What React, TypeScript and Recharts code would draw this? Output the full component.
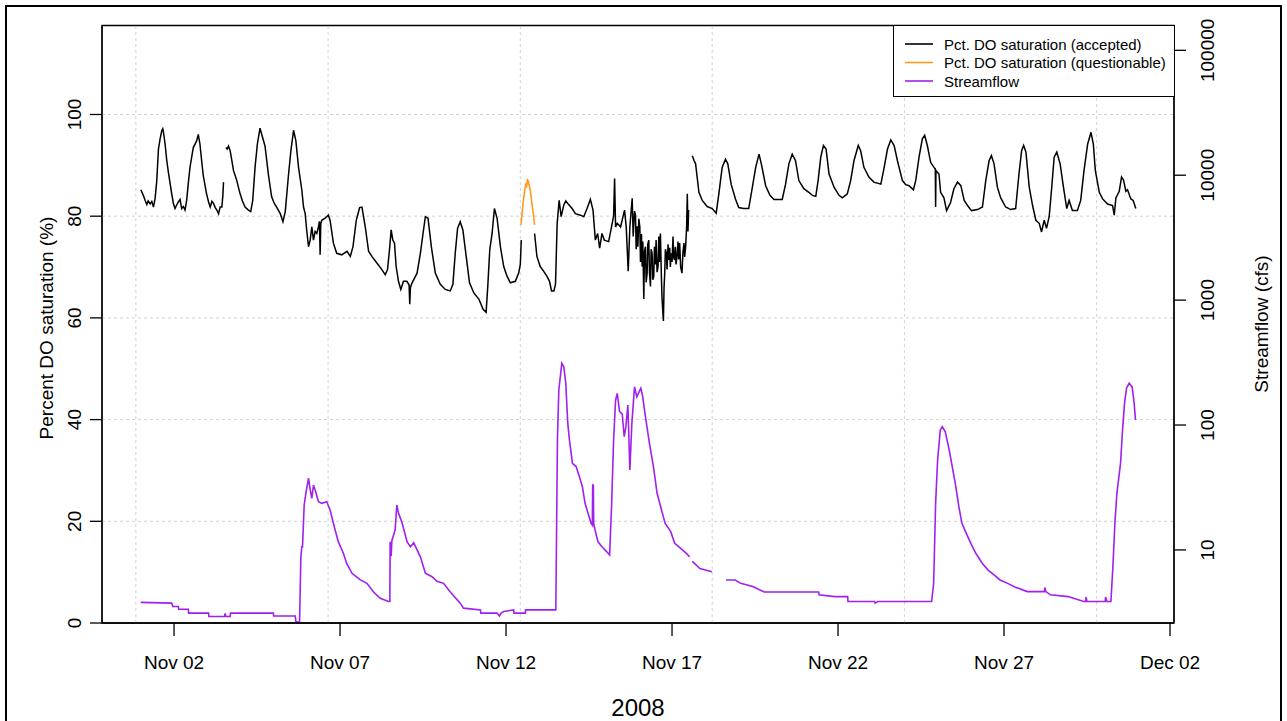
import React from 'react';
import { LineChart, Line, XAxis, YAxis, ReferenceLine, ReferenceArea } from 'recharts';

const FONT = '"Liberation Sans", Arial, Helvetica, sans-serif';

// ---- tick labels / categories ----
const xTickDays = [1, 6, 11, 16, 21, 26, 31]; // days since Nov 01 00:00
const xTickLabels = ['Nov 02', 'Nov 07', 'Nov 12', 'Nov 17', 'Nov 22', 'Nov 27', 'Dec 02'];
const gridDays = [-0.15, 5.64, 11.43, 17.21, 23.0, 28.79];
const doTicks = [0, 20, 40, 60, 80, 100];
const doGrid = [20, 40, 60, 80, 100];
const flowTicks = [10, 100, 1000, 10000, 100000];
const yearLabel = '2008';
const leftTitle = 'Percent DO saturation (%)';
const rightTitle = 'Streamflow (cfs)';
const legendNames = ['Pct. DO saturation (accepted)', 'Pct. DO saturation (questionable)', 'Streamflow'];
const seriesColors = ['#000000', '#FF9A1E', '#A020F0'];

// ---- series: [day, value] ----
const doAccepted: [number, number | null][] = [
  [0, 85.2], [0.08, 84.0], [0.13, 83.1], [0.18, 82.3], [0.22, 83.0], [0.28, 82.4], [0.33, 82.9], [0.38, 81.8],
  [0.43, 83.5], [0.48, 87.0], [0.53, 93.2], [0.58, 95.2], [0.63, 96.8], [0.66, 97.2], [0.68, 96.6], [0.73, 94.2],
  [0.78, 91.0], [0.83, 88.6], [0.93, 84.4], [0.98, 82.5], [1.03, 81.5], [1.08, 82.2], [1.13, 82.8], [1.18, 83.3],
  [1.23, 81.5], [1.28, 81.9], [1.33, 81.2], [1.38, 83.1], [1.43, 86.5], [1.48, 89.6], [1.58, 93.5], [1.68, 94.8],
  [1.73, 96.1], [1.78, 94.2], [1.83, 91.0], [1.88, 88.0], [1.98, 84.4], [2.04, 82.8], [2.09, 81.8], [2.14, 82.9],
  [2.19, 82.5], [2.24, 81.7], [2.29, 81.2], [2.34, 80.5], [2.39, 81.8], [2.44, 81.8], [2.47, 84.0], [2.49, 86.7],
  [2.52, null],
  [2.56, 93.5], [2.60, 93.2], [2.64, 93.8], [2.69, 92.9], [2.74, 91.0], [2.79, 89.0], [2.89, 87.0], [2.99, 84.4],
  [3.06, 83.0], [3.14, 81.8], [3.24, 81.2], [3.31, 80.9], [3.37, 83.1], [3.44, 89.6], [3.51, 94.2], [3.59, 97.3],
  [3.64, 96.1], [3.74, 93.8], [3.84, 88.3], [3.94, 83.8], [4.02, 82.5], [4.09, 81.8], [4.20, 80.5], [4.28, 78.9],
  [4.35, 80.9], [4.45, 88.3], [4.52, 92.9], [4.60, 96.9], [4.67, 94.8], [4.75, 89.6], [4.85, 85.1], [4.90, 81.8],
  [4.95, 80.5], [5.00, 77.0], [5.05, 74.0], [5.10, 75.3], [5.15, 77.9], [5.20, 75.3], [5.25, 77.0], [5.30, 76.6],
  [5.35, 77.9], [5.38, 79.0], [5.40, 72.4], [5.42, 78.5], [5.45, 79.2], [5.55, 79.6], [5.65, 80.2], [5.70, 79.2],
  [5.80, 74.7], [5.90, 72.7], [6.05, 72.4], [6.21, 73.1], [6.31, 72.1], [6.39, 74.0], [6.49, 79.2], [6.59, 81.7],
  [6.66, 81.8], [6.76, 77.9], [6.86, 73.1], [6.96, 72.1], [7.11, 70.8], [7.26, 69.5], [7.36, 68.5], [7.43, 69.5],
  [7.49, 73.4], [7.54, 77.3], [7.59, 75.3], [7.64, 74.7], [7.69, 70.1], [7.76, 67.2], [7.83, 65.6], [7.91, 67.2],
  [8.01, 67.2], [8.08, 66.5], [8.10, 62.7], [8.12, 66.0], [8.17, 66.9], [8.32, 68.8], [8.42, 72.7], [8.50, 76.6],
  [8.57, 79.9], [8.65, 79.6], [8.75, 74.0], [8.87, 68.8], [9.02, 66.6], [9.17, 65.6], [9.32, 65.3], [9.40, 66.6],
  [9.47, 72.7], [9.54, 77.6], [9.62, 78.9], [9.70, 77.3], [9.80, 72.1], [9.90, 66.9], [10.03, 64.9], [10.18, 63.7],
  [10.31, 61.7], [10.40, 61.1], [10.45, 66.2], [10.51, 73.4], [10.58, 76.6], [10.65, 81.5], [10.73, 79.6], [10.83, 74.0],
  [10.93, 70.1], [11.03, 68.2], [11.13, 66.9], [11.28, 67.2], [11.38, 68.8], [11.43, 70.5], [11.46, 75.3],
  [11.50, null],
  [11.86, 76.6], [11.93, 72.1], [12.03, 70.1], [12.13, 69.2], [12.23, 68.2], [12.31, 67.2], [12.37, 65.3], [12.44, 65.3],
  [12.49, 66.6], [12.54, 78.6], [12.60, 83.1], [12.66, 79.9], [12.74, 82.2], [12.80, 83.0], [12.86, 82.5], [12.99, 81.5],
  [13.09, 80.5], [13.24, 80.2], [13.34, 79.9], [13.44, 81.5], [13.54, 83.3], [13.62, 81.2], [13.69, 75.3], [13.76, 76.6],
  [13.82, 73.7], [13.89, 76.6], [13.96, 75.3], [14.09, 75.0], [14.16, 77.3], [14.24, 80.0], [14.27, 87.4], [14.30, 77.9],
  [14.35, 78.6], [14.45, 77.9], [14.57, 81.2], [14.62, 77.9], [14.68, 69.2], [14.73, 77.9], [14.80, 83.5], [14.83, 76.0],
  [14.87, 81.0], [14.90, 80.2], [14.92, 73.5], [14.95, 78.0], [14.97, 74.0], [15.00, 79.5], [15.03, 77.9], [15.05, 71.0],
  [15.08, 76.5], [15.10, 70.1], [15.12, 75.0], [15.15, 63.7], [15.17, 73.0], [15.20, 74.0], [15.22, 67.0], [15.25, 68.8],
  [15.27, 74.5], [15.30, 75.3], [15.32, 69.0], [15.35, 66.2], [15.37, 73.5], [15.40, 72.7], [15.42, 67.5], [15.45, 68.2],
  [15.47, 74.0], [15.50, 70.5], [15.52, 75.3], [15.55, 69.0], [15.58, 70.1], [15.60, 76.0], [15.62, 71.0], [15.65, 76.6],
  [15.68, 68.0], [15.70, 63.7], [15.74, 59.4], [15.76, 66.0], [15.78, 68.8], [15.80, 73.5], [15.83, 72.7], [15.85, 69.5],
  [15.88, 74.5], [15.90, 71.4], [15.93, 73.8], [15.95, 70.0], [15.97, 72.7], [16.00, 71.0], [16.03, 76.0], [16.05, 72.0],
  [16.07, 71.4], [16.10, 74.0], [16.12, 70.5], [16.15, 72.1], [16.18, 75.0], [16.20, 71.5], [16.23, 74.7], [16.26, 70.0],
  [16.30, 68.8], [16.33, 73.0], [16.36, 74.7], [16.38, 72.0], [16.41, 74.0], [16.44, 78.0], [16.46, 84.4], [16.48, 77.0],
  [16.50, 81.2],
  [16.55, null],
  [16.61, 91.9], [16.66, 91.0], [16.71, 90.3], [16.81, 84.7], [16.91, 83.1], [17.06, 81.9], [17.21, 81.5], [17.33, 80.6],
  [17.41, 84.4], [17.51, 89.6], [17.61, 91.2], [17.68, 90.3], [17.78, 86.3], [17.91, 83.4], [18.01, 81.7], [18.16, 81.5],
  [18.31, 81.5], [18.42, 85.7], [18.52, 89.6], [18.62, 92.2], [18.69, 90.3], [18.82, 86.0], [18.95, 84.1], [19.07, 83.3],
  [19.32, 83.3], [19.42, 86.3], [19.52, 90.3], [19.62, 92.2], [19.72, 90.9], [19.82, 87.0], [19.97, 85.4], [20.12, 84.7],
  [20.23, 84.1], [20.33, 83.9], [20.40, 87.0], [20.48, 91.6], [20.56, 93.9], [20.64, 93.2], [20.73, 88.3], [20.88, 85.7],
  [21.03, 84.1], [21.13, 83.6], [21.28, 84.4], [21.38, 87.0], [21.48, 90.9], [21.61, 93.9], [21.68, 92.9], [21.78, 89.6],
  [21.93, 87.7], [22.08, 86.7], [22.29, 86.3], [22.39, 89.6], [22.49, 93.2], [22.59, 95.0], [22.69, 93.9], [22.79, 90.9],
  [22.94, 87.0], [23.04, 86.2], [23.14, 86.0], [23.27, 85.2], [23.34, 87.0], [23.44, 91.6], [23.54, 95.2], [23.61, 95.9],
  [23.69, 93.9], [23.79, 90.6], [23.89, 89.6], [23.93, 89.3], [23.94, 81.8], [23.95, 89.0], [24.04, 88.3], [24.09, 84.7],
  [24.19, 83.6], [24.27, 81.1], [24.39, 82.7], [24.49, 85.4], [24.60, 86.7], [24.70, 86.0], [24.80, 83.1], [24.90, 82.1],
  [25.02, 81.1], [25.20, 81.3], [25.35, 81.8], [25.45, 87.0], [25.55, 90.9], [25.62, 91.9], [25.70, 90.3], [25.80, 85.7],
  [25.90, 83.6], [26.05, 81.8], [26.20, 81.3], [26.35, 81.5], [26.45, 88.3], [26.53, 92.9], [26.59, 93.9], [26.66, 92.6],
  [26.76, 85.7], [26.86, 82.1], [26.96, 79.2], [27.06, 78.6], [27.13, 76.9], [27.21, 79.2], [27.28, 77.6], [27.36, 79.9],
  [27.43, 85.1], [27.51, 91.6], [27.59, 92.6], [27.69, 90.3], [27.79, 85.7], [27.89, 81.5], [27.96, 83.1], [28.06, 81.1],
  [28.21, 81.1], [28.31, 83.1], [28.41, 89.0], [28.52, 94.2], [28.62, 96.5], [28.69, 94.2], [28.75, 89.0], [28.87, 84.7],
  [28.97, 83.4], [29.12, 82.4], [29.27, 82.1], [29.32, 80.2], [29.37, 83.6], [29.47, 84.9], [29.54, 87.7], [29.60, 87.1],
  [29.67, 84.9], [29.72, 85.2], [29.82, 83.4], [29.89, 83.1], [29.97, 81.5],
];

const doQuestionable: [number, number][] = [
  [11.45, 78.3], [11.49, 81.0], [11.53, 83.5], [11.58, 85.7], [11.60, 86.5], [11.62, 85.6], [11.64, 87.3],
  [11.66, 87.0], [11.70, 86.0], [11.73, 85.1], [11.78, 82.5], [11.83, 80.0], [11.86, 78.3],
];

const streamflow: [number, number | null][] = [
  [0, 3.8], [0.93, 3.75], [0.96, 3.52], [1.13, 3.52], [1.14, 3.35], [1.43, 3.35], [1.44, 3.12], [2.04, 3.12],
  [2.05, 2.93], [2.52, 2.93], [2.54, 3.1], [2.56, 2.93], [2.69, 2.93], [2.70, 3.12], [3.99, 3.12], [4.0, 2.96],
  [4.65, 2.96], [4.67, 2.67], [4.78, 2.62], [4.82, 8.8], [4.85, 10.6], [4.87, 10.6], [4.92, 22.9], [4.97, 28.4],
  [5.05, 37.5], [5.10, 30.5], [5.15, 25.9], [5.20, 33.0], [5.25, 30.2], [5.35, 24.3], [5.45, 23.6], [5.60, 24.3],
  [5.70, 20.9], [5.85, 14.5], [5.95, 11.6], [6.10, 9.4], [6.20, 7.8], [6.36, 6.5], [6.61, 5.75], [6.81, 5.4],
  [7.01, 4.6], [7.21, 4.1], [7.46, 3.86], [7.50, 3.86], [7.51, 11.6], [7.54, 8.9], [7.56, 11.8], [7.66, 14.5],
  [7.71, 22.9], [7.76, 19.7], [7.87, 16.4], [8.02, 11.6], [8.12, 10.6], [8.22, 11.4], [8.42, 8.8], [8.57, 6.5],
  [8.77, 6.1], [8.92, 5.6], [9.12, 5.4], [9.32, 4.6], [9.62, 3.75], [9.72, 3.42], [10.23, 3.31], [10.24, 3.12],
  [10.73, 3.12], [10.80, 2.95], [10.85, 3.12], [10.93, 3.22], [11.23, 3.31], [11.24, 3.12], [11.58, 3.12], [11.59, 3.31],
  [12.50, 3.31], [12.53, 23.6], [12.55, 80.6], [12.59, 190], [12.68, 312], [12.74, 293], [12.80, 216], [12.86, 103],
  [12.91, 75.9], [13.0, 49.4], [13.11, 46.5], [13.21, 38.5], [13.30, 32.1], [13.38, 23.6], [13.47, 19.7], [13.56, 16.4],
  [13.60, 15.8], [13.61, 33.1], [13.63, 33.1], [13.64, 16.4], [13.68, 14.5], [13.77, 11.6], [13.89, 10.6], [14.03, 9.7],
  [14.12, 9.1], [14.18, 22.9], [14.24, 75.9], [14.30, 158], [14.35, 179], [14.42, 128], [14.50, 123], [14.56, 80.6],
  [14.61, 97], [14.67, 144.5], [14.73, 43.7], [14.79, 103], [14.87, 202], [14.94, 168], [15.06, 197], [15.11, 173],
  [15.20, 116], [15.32, 71.4], [15.44, 46.5], [15.55, 28.4], [15.79, 16.4], [15.96, 14.0], [16.08, 11.3], [16.26, 10.3],
  [16.43, 9.4], [16.53, 8.8], [16.57, null], [16.61, 8.1], [16.84, 7.1], [17.20, 6.7], [17.40, null], [17.63, 5.75],
  [17.90, 5.75], [18.07, 5.4], [18.43, 5.1], [18.78, 4.6], [20.42, 4.6], [20.43, 4.37], [20.89, 4.23], [21.29, 4.23],
  [21.30, 3.86], [22.10, 3.86], [22.12, 3.75], [22.20, 3.86], [23.82, 3.86], [23.88, 5.4], [23.94, 23.6], [24.0, 52.5],
  [24.08, 91], [24.14, 97], [24.23, 88.3], [24.35, 63.1], [24.53, 34.2], [24.64, 22.2], [24.73, 16.4], [24.84, 14.0],
  [25.0, 11.3], [25.15, 9.4], [25.35, 7.8], [25.52, 6.9], [25.70, 6.3], [25.88, 5.75], [26.11, 5.4], [26.34, 5.03],
  [26.70, 4.64], [27.22, 4.64], [27.23, 5.0], [27.26, 4.64], [27.40, 4.37], [27.93, 4.23], [28.40, 3.86], [28.46, 3.86],
  [28.47, 4.2], [28.50, 3.86], [29.05, 3.86], [29.06, 4.2], [29.10, 3.86], [29.22, 3.86], [29.28, 7.4], [29.34, 16.4],
  [29.40, 28.4], [29.51, 49.4], [29.57, 91], [29.63, 149], [29.69, 197], [29.77, 216], [29.86, 202], [29.92, 149],
  [29.96, 110],
];

const toRows = (pairs: [number, number | null][]) => pairs.map(([t, v]) => ({ t, v }));
const acceptedRows = toRows(doAccepted);
const questionableRows = toRows(doQuestionable);
const flowRows = toRows(streamflow);

const TICK_FONT = 19;

const XTick = (props: any) => {
  const { x, y, payload } = props;
  const i = xTickDays.indexOf(payload.value);
  return (
    <text x={x} y={y} textAnchor="middle" dominantBaseline="central" fontSize={TICK_FONT} fontFamily={FONT} fill="#000">
      {i >= 0 ? xTickLabels[i] : ''}
    </text>
  );
};

const YTick = (props: any) => {
  const { x, y, payload } = props;
  return (
    <text x={x} y={y} transform={`rotate(-90, ${x}, ${y})`} textAnchor="middle" fontSize={TICK_FONT} fontFamily={FONT} fill="#000">
      {String(payload.value)}
    </text>
  );
};

export default function App() {
  return (
    <div style={{ position: 'absolute', left: 0, top: 0, width: 1287, height: 721, overflow: 'hidden', background: '#fff' }}>
      <LineChart width={1287} height={721} margin={{ top: 25.5, right: 53, bottom: 38, left: 42 }}>
        <XAxis
          type="number"
          dataKey="t"
          domain={[-1.17, 31.12]}
          ticks={xTickDays}
          interval={0}
          allowDataOverflow
          height={60}
          tickSize={13}
          tickMargin={26}
          tick={<XTick />}
          axisLine={{ stroke: '#000', strokeWidth: 1.3 }}
          tickLine={{ stroke: '#000', strokeWidth: 1.3 }}
        />
        <YAxis
          yAxisId="do"
          type="number"
          domain={[0, 117.5]}
          ticks={doTicks}
          interval={0}
          allowDataOverflow
          width={60}
          tickSize={12}
          tickMargin={9}
          tick={<YTick />}
          axisLine={{ stroke: '#000', strokeWidth: 1.3 }}
          tickLine={{ stroke: '#000', strokeWidth: 1.3 }}
        />
        <YAxis
          yAxisId="flow"
          orientation="right"
          type="number"
          scale="log"
          domain={[2.6, 158000]}
          ticks={flowTicks}
          interval={0}
          allowDataOverflow
          width={60}
          tickSize={12}
          tickMargin={28}
          tick={<YTick />}
          axisLine={{ stroke: '#000', strokeWidth: 1.3 }}
          tickLine={{ stroke: '#000', strokeWidth: 1.3 }}
        />
        {doGrid.map((v) => (
          <ReferenceLine key={'h' + v} yAxisId="do" y={v} stroke="#d2d2d2" strokeDasharray="3 3" strokeWidth={1} ifOverflow="visible" />
        ))}
        {gridDays.map((d) => (
          <ReferenceLine key={'v' + d} yAxisId="do" x={d} stroke="#d2d2d2" strokeDasharray="3 3" strokeWidth={1} ifOverflow="visible" />
        ))}
        <Line data={flowRows} dataKey="v" yAxisId="flow" type="linear" stroke={seriesColors[2]} strokeWidth={1.6} dot={false} activeDot={false} connectNulls={false} isAnimationActive={false} />
        <Line data={acceptedRows} dataKey="v" yAxisId="do" type="linear" stroke={seriesColors[0]} strokeWidth={1.5} dot={false} activeDot={false} connectNulls={false} isAnimationActive={false} />
        <Line data={questionableRows} dataKey="v" yAxisId="do" type="linear" stroke={seriesColors[1]} strokeWidth={1.6} dot={false} activeDot={false} connectNulls={false} isAnimationActive={false} />
        <ReferenceArea yAxisId="do" x1={-1.17} x2={31.12} y1={0} y2={117.5} fill="none" fillOpacity={0} stroke="#000" strokeWidth={1.3} ifOverflow="visible" />
      </LineChart>

      <svg width={1287} height={721} style={{ position: 'absolute', left: 0, top: 0, pointerEvents: 'none' }}>
        <text x={53} y={328} transform="rotate(-90, 53, 328)" textAnchor="middle" fontSize={19} fontFamily={FONT} fill="#000">{leftTitle}</text>
        <text x={1268} y={324} transform="rotate(-90, 1268, 324)" textAnchor="middle" fontSize={19} fontFamily={FONT} fill="#000">{rightTitle}</text>
        <text x={638} y={716} textAnchor="middle" fontSize={24} fontFamily={FONT} fill="#000">{yearLabel}</text>
      </svg>

      <div style={{ position: 'absolute', left: 893, top: 25, width: 282, height: 72, border: '1px solid #000', background: '#fff', boxSizing: 'border-box' }}>
        <svg width={280} height={70} style={{ position: 'absolute', left: 0, top: 0 }}>
          {legendNames.map((name, i) => (
            <g key={name}>
              <line x1={11} x2={39} y1={18 + i * 18.5} y2={18 + i * 18.5} stroke={seriesColors[i]} strokeWidth={1.6} />
              <text x={50} y={18 + i * 18.5} dominantBaseline="central" fontSize={15} fontFamily={FONT} fill="#000">{name}</text>
            </g>
          ))}
        </svg>
      </div>

      <div style={{ position: 'absolute', left: 5, top: 5, width: 1277, height: 740, border: '2px solid #000', boxSizing: 'border-box', pointerEvents: 'none' }} />
    </div>
  );
}
